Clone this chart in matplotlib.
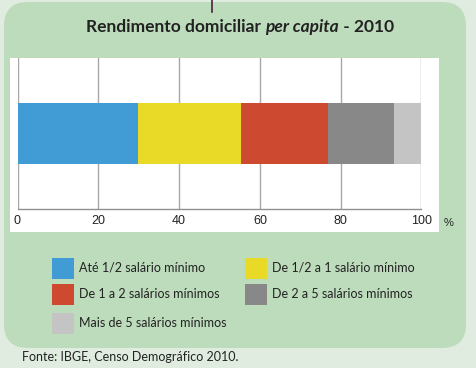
import matplotlib
matplotlib.use("Agg")
import matplotlib.pyplot as plt
from matplotlib.patches import FancyBboxPatch, Rectangle

# data
categories = ["Até 1/2 salário mínimo", "De 1/2 a 1 salário mínimo",
              "De 1 a 2 salários mínimos", "De 2 a 5 salários mínimos",
              "Mais de 5 salários mínimos"]
values = [29.8, 25.4, 21.7, 16.3, 6.8]
colors = ["#419bd5", "#e9da28", "#cd4a30", "#878887", "#c4c4c4"]
xticks = [0, 20, 40, 60, 80, 100]

W, H = 477, 368
fig = plt.figure(figsize=(W / 100, H / 100), dpi=100)
fig.patch.set_facecolor("#e0ece0")

# background axes in pixel coordinates (origin top-left)
bg = fig.add_axes([0, 0, 1, 1])
bg.set_xlim(0, W)
bg.set_ylim(H, 0)
bg.axis("off")
bg.set_zorder(0)

bg.add_patch(FancyBboxPatch((4, 2), 462, 346,
                            boxstyle="round,pad=0,rounding_size=24",
                            facecolor="#bddcbc", edgecolor="none"))
bg.add_patch(Rectangle((10, 58), 429, 174, facecolor="white",
                       edgecolor="none"))
bg.plot([212, 212], [0, 12], color="#4a2040", lw=1.2)


def fx(px):
    return px / W


def fy(py):
    return 1 - py / H


ax = fig.add_axes([fx(17.5), fy(209), fx(404), 151 / H])
ax.set_zorder(2)
ax.set_facecolor("none")
left = 0
for v, c, lab in zip(values, colors, categories):
    ax.barh(0, v, left=left, height=0.4, color=c, label=lab, zorder=3)
    left += v
ax.set_xlim(0, 100)
ax.set_ylim(-0.5, 0.5)
ax.set_yticks([])
ax.set_xticks(xticks)
ax.tick_params(axis="x", length=0, pad=4, labelsize=9, labelcolor="#222222")
for lbl in ax.get_xticklabels():
    lbl.set_fontfamily("Liberation Sans")
ax.grid(axis="x", color="#a8a8a8", lw=1, zorder=1)
for s in ["top", "left", "right"]:
    ax.spines[s].set_visible(False)
ax.spines["bottom"].set_color("#909090")
ax.spines["bottom"].set_linewidth(1)
bg.text(449, 223, "%", fontsize=8, family="Liberation Sans",
        color="#222222", ha="center", va="center")

# title in pieces (bold + bold italic)
renderer = fig.canvas.get_renderer()
parts = [("Rendimento domiciliar ", "normal"), ("per capita", "italic"),
         (" - 2010", "normal")]
texts = []
for s, style in parts:
    t = bg.text(0, 27, s, fontsize=12.5, weight="bold", style=style,
                family="Lato", color="#222222", va="center")
    texts.append(t)
widths = [t.get_window_extent(renderer).width for t in texts]
x0 = 240 - sum(widths) / 2
for t, w in zip(texts, widths):
    t.set_x(x0)
    x0 += w

# legend
legend_pos = [(52, 258), (245, 258), (52, 284), (245, 284), (52, 313)]
for (lx, ly), c, lab in zip(legend_pos, colors, categories):
    bg.add_patch(Rectangle((lx, ly), 22, 21, facecolor=c, edgecolor="none"))
    bg.text(lx + 27, ly + 10, lab, fontsize=9, family="Lato",
            color="#222222", va="center")

bg.text(22, 357, "Fonte: IBGE, Censo Demográfico 2010.", fontsize=9,
        family="Lato", color="#222222", va="center")

plt.savefig("out.png", dpi=100)
